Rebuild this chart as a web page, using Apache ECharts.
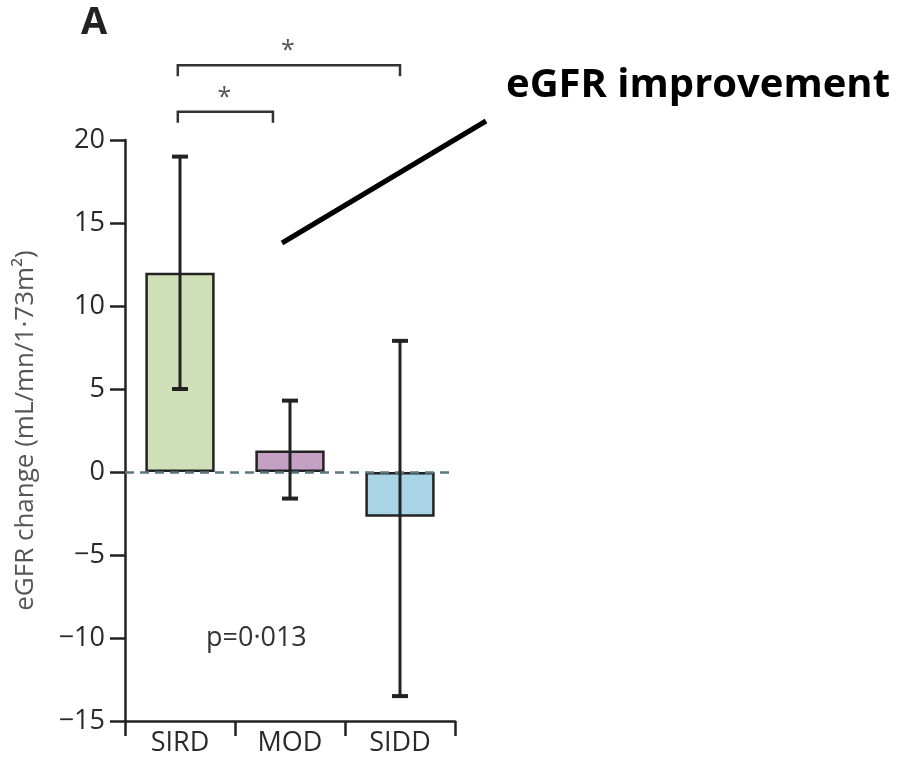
<!DOCTYPE html>
<html>
<head>
<meta charset="utf-8">
<script src="https://cdn.jsdelivr.net/npm/echarts@6/dist/echarts.min.js"></script>
<style>html,body{margin:0;padding:0;background:#fff}#c{width:900px;height:759px}</style>
</head>
<body>
<div id="c"></div>
<script>
const categories = ['SIRD', 'MOD', 'SIDD'];
const meanValues = [12, 1.3, -2.7];
const errLow = [5, -1.6, -13.5];
const errHigh = [19, 4.3, 7.9];
const barColors = ['#cfe0b9', '#c4a0c4', '#a8d4e6'];
const yTicks = { min: -15, max: 20, step: 5 };
// comparisons: [fromIndex, toIndex, bracketValue, label]
const comparisons = [[0, 1, 21.7, '*'], [0, 2, 24.5, '*']];
const pValueText = 'p=0·013';

const FONT = '"Open Sans", "Noto Sans", sans-serif';
const chart = echarts.init(document.getElementById('c'), null, { renderer: 'canvas' });

const option = {
  backgroundColor: '#fff',
  animation: false,
  grid: { left: 125, top: 140, width: 330, height: 581, containLabel: false },
  xAxis: {
    type: 'category',
    data: categories,
    axisLine: { onZero: false, lineStyle: { color: '#222', width: 2.5 } },
    axisTick: { show: true, length: 15, lineStyle: { color: '#222', width: 2.5 } },
    axisLabel: { color: '#2a2a2a', fontSize: 27, fontFamily: FONT, margin: 9 },
    splitLine: { show: false }
  },
  yAxis: {
    type: 'value',
    min: yTicks.min, max: yTicks.max, interval: yTicks.step,
    name: 'eGFR change (mL/mn/1·73m²)',
    nameLocation: 'middle',
    nameGap: 86,
    nameTextStyle: { color: '#555', fontSize: 26, fontFamily: FONT },
    axisLine: { show: true, lineStyle: { color: '#222', width: 2.5 } },
    axisTick: { show: true, length: 15, lineStyle: { color: '#222', width: 2.5 } },
    axisLabel: {
      color: '#2a2a2a', fontSize: 27, fontFamily: FONT, margin: 20,
      formatter: v => (v < 0 ? '\u2212' + Math.abs(v) : String(v))
    },
    splitLine: { show: false }
  },
  series: [
    {
      type: 'bar',
      barWidth: '63%',
      data: meanValues.map((v, i) => ({ value: v, itemStyle: { color: barColors[i] } })),
      itemStyle: { borderColor: '#232323', borderWidth: 2.5 },
      z: 2
    },
    {
      type: 'line',
      data: [],
      symbol: 'none',
      z: 4,
      markLine: {
        silent: true,
        symbol: 'none',
        label: { show: false },
        lineStyle: { color: '#5a7880', type: [9, 6], width: 2.5 },
        data: [{ yAxis: 0 }]
      }
    },
    {
      type: 'custom',
      z: 5,
      data: categories.map((c, i) => [i, errLow[i], errHigh[i]]),
      renderItem: function (params, api) {
        const x = api.value(0);
        const lo = api.coord([x, api.value(1)]);
        const hi = api.coord([x, api.value(2)]);
        const cap = 8;
        const style = { stroke: '#222', lineWidth: 3 };
        return {
          type: 'group',
          children: [
            { type: 'line', shape: { x1: hi[0], y1: hi[1], x2: lo[0], y2: lo[1] }, style },
            { type: 'line', shape: { x1: hi[0] - cap, y1: hi[1], x2: hi[0] + cap, y2: hi[1] }, style: { stroke: '#222', lineWidth: 4 } },
            { type: 'line', shape: { x1: lo[0] - cap, y1: lo[1], x2: lo[0] + cap, y2: lo[1] }, style: { stroke: '#222', lineWidth: 4 } }
          ]
        };
      }
    },
    {
      type: 'custom',
      clip: false,
      z: 6,
      data: comparisons.map(c => [c[0], c[1], c[2]]),
      renderItem: function (params, api) {
        const i0 = api.value(0), i1 = api.value(1), v = api.value(2);
        const band = api.size([1, 0])[0];
        const a = api.coord([i0, v]);
        const b = api.coord([i1, v]);
        const x1 = a[0] - 0.02 * band;
        const x2 = i1 === 1 ? b[0] - 0.155 * band : b[0];
        const y = a[1];
        const drop = 11;
        const lbl = comparisons[params.dataIndex][3];
        return {
          type: 'group',
          children: [
            { type: 'polyline', shape: { points: [[x1, y + drop], [x1, y], [x2, y], [x2, y + drop]] },
              style: { stroke: '#333', lineWidth: 2.5, fill: null } },
            { type: 'text', x: (x1 + x2) / 2 - 1, y: y - 14,
              style: { text: lbl, fill: '#555', font: '25px ' + FONT, textAlign: 'center', textVerticalAlign: 'middle' } }
          ]
        };
      }
    }
  ],
  graphic: [
    { type: 'text', left: 81, top: 4, style: { text: 'A', fill: '#222', font: 'bold 38px ' + FONT } },
    { type: 'text', left: 506, top: 66, style: { text: 'eGFR improvement', fill: '#000', font: 'bold 40px ' + FONT } },
    { type: 'line', shape: { x1: 282, y1: 243, x2: 486, y2: 121 }, style: { stroke: '#000', lineWidth: 5 } },
    { type: 'text', left: 206, top: 625, style: { text: pValueText, fill: '#333', font: '27px ' + FONT } }
  ]
};
chart.setOption(option);
</script>
</body>
</html>
